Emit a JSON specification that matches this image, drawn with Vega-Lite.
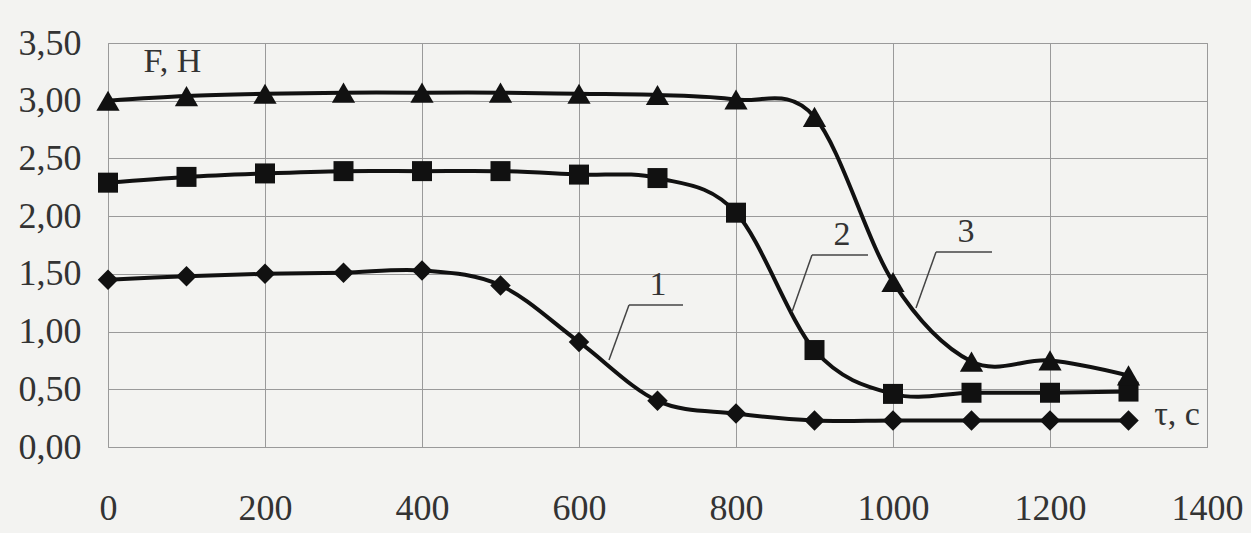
{
  "$schema": "https://vega.github.io/schema/vega-lite/v6.json",
  "width": 1099,
  "height": 404,
  "autosize": {"type": "none"},
  "padding": {"left": 108, "top": 43, "right": 44, "bottom": 86},
  "background": "#f3f3f1",
  "config": {
    "view": {"stroke": "#9a9a9a", "strokeWidth": 1},
    "font": "Liberation Serif"
  },
  "datasets": {
    "series": [
      {"series": "1", "t": 0, "F": 1.45},
      {"series": "1", "t": 100, "F": 1.48},
      {"series": "1", "t": 200, "F": 1.50},
      {"series": "1", "t": 300, "F": 1.51},
      {"series": "1", "t": 400, "F": 1.53},
      {"series": "1", "t": 500, "F": 1.40},
      {"series": "1", "t": 600, "F": 0.91},
      {"series": "1", "t": 700, "F": 0.40},
      {"series": "1", "t": 800, "F": 0.29},
      {"series": "1", "t": 900, "F": 0.23},
      {"series": "1", "t": 1000, "F": 0.23},
      {"series": "1", "t": 1100, "F": 0.23},
      {"series": "1", "t": 1200, "F": 0.23},
      {"series": "1", "t": 1300, "F": 0.23},
      {"series": "2", "t": 0, "F": 2.29},
      {"series": "2", "t": 100, "F": 2.34},
      {"series": "2", "t": 200, "F": 2.37},
      {"series": "2", "t": 300, "F": 2.39},
      {"series": "2", "t": 400, "F": 2.39},
      {"series": "2", "t": 500, "F": 2.39},
      {"series": "2", "t": 600, "F": 2.36},
      {"series": "2", "t": 700, "F": 2.33},
      {"series": "2", "t": 800, "F": 2.03},
      {"series": "2", "t": 900, "F": 0.84},
      {"series": "2", "t": 1000, "F": 0.46},
      {"series": "2", "t": 1100, "F": 0.47},
      {"series": "2", "t": 1200, "F": 0.47},
      {"series": "2", "t": 1300, "F": 0.48},
      {"series": "3", "t": 0, "F": 3.00},
      {"series": "3", "t": 100, "F": 3.04},
      {"series": "3", "t": 200, "F": 3.06},
      {"series": "3", "t": 300, "F": 3.07},
      {"series": "3", "t": 400, "F": 3.07},
      {"series": "3", "t": 500, "F": 3.07},
      {"series": "3", "t": 600, "F": 3.06},
      {"series": "3", "t": 700, "F": 3.05},
      {"series": "3", "t": 800, "F": 3.01},
      {"series": "3", "t": 900, "F": 2.86},
      {"series": "3", "t": 1000, "F": 1.43},
      {"series": "3", "t": 1100, "F": 0.74},
      {"series": "3", "t": 1200, "F": 0.75},
      {"series": "3", "t": 1300, "F": 0.62}
    ],
    "leaders": [
      {"x": 663.7, "y": 1.23, "x2": 732.5, "y2": 1.23},
      {"x": 663.7, "y": 1.23, "x2": 638.2, "y2": 0.754},
      {"x": 896.8, "y": 1.663, "x2": 968.2, "y2": 1.663},
      {"x": 896.8, "y": 1.663, "x2": 871.3, "y2": 1.17},
      {"x": 1054.8, "y": 1.689, "x2": 1126.1, "y2": 1.689},
      {"x": 1054.8, "y": 1.689, "x2": 1029.3, "y2": 1.204}
    ],
    "labels": [
      {"x": 700.6, "y": 1.403, "label": "1"},
      {"x": 935.0, "y": 1.837, "label": "2"},
      {"x": 1093.0, "y": 1.863, "label": "3"},
      {"x": 82, "y": 3.335, "label": "F, H"},
      {"x": 1361.8, "y": 0.277, "label": "τ, c"}
    ]
  },
  "layer": [
    {
      "data": {"name": "series"},
      "mark": {"type": "line", "interpolate": "cardinal", "color": "#111111", "strokeWidth": 4},
      "encoding": {
        "x": {
          "field": "t", "type": "quantitative",
          "scale": {"domain": [0, 1400], "nice": false, "zero": false},
          "axis": {
            "values": [0, 200, 400, 600, 800, 1000, 1200, 1400],
            "format": "d",
            "title": null, "domain": false, "ticks": false,
            "grid": true, "gridColor": "#9a9a9a", "gridWidth": 1,
            "labelFont": "Liberation Serif", "labelFontSize": 36, "labelColor": "#333333",
            "labelPadding": 44, "labelFlush": false
          }
        },
        "y": {
          "field": "F", "type": "quantitative",
          "scale": {"domain": [0, 3.5], "nice": false},
          "axis": {
            "values": [0, 0.5, 1, 1.5, 2, 2.5, 3, 3.5],
            "labelExpr": "replace(format(datum.value, '.2f'), '.', ',')",
            "title": null, "domain": false, "ticks": false,
            "grid": true, "gridColor": "#9a9a9a", "gridWidth": 1,
            "labelFont": "Liberation Serif", "labelFontSize": 36, "labelColor": "#333333",
            "labelPadding": 27, "labelFlush": false
          }
        },
        "detail": {"field": "series", "type": "nominal"}
      }
    },
    {
      "data": {"name": "series"},
      "transform": [{"filter": "datum.series === '1'"}],
      "mark": {"type": "point", "shape": "diamond", "size": 420, "filled": true, "color": "#111111", "opacity": 1},
      "encoding": {
        "x": {"field": "t", "type": "quantitative"},
        "y": {"field": "F", "type": "quantitative"}
      }
    },
    {
      "data": {"name": "series"},
      "transform": [{"filter": "datum.series === '2'"}],
      "mark": {"type": "point", "shape": "square", "size": 400, "filled": true, "color": "#111111", "opacity": 1},
      "encoding": {
        "x": {"field": "t", "type": "quantitative"},
        "y": {"field": "F", "type": "quantitative"}
      }
    },
    {
      "data": {"name": "series"},
      "transform": [{"filter": "datum.series === '3'"}],
      "mark": {"type": "point", "shape": "triangle-up", "size": 540, "filled": true, "color": "#111111", "opacity": 1},
      "encoding": {
        "x": {"field": "t", "type": "quantitative"},
        "y": {"field": "F", "type": "quantitative"}
      }
    },
    {
      "data": {"name": "leaders"},
      "mark": {"type": "rule", "color": "#444444", "strokeWidth": 1.5},
      "encoding": {
        "x": {"field": "x", "type": "quantitative"},
        "y": {"field": "y", "type": "quantitative"},
        "x2": {"field": "x2"},
        "y2": {"field": "y2"}
      }
    },
    {
      "data": {"name": "labels"},
      "mark": {"type": "text", "font": "Liberation Serif", "fontSize": 34, "color": "#333333", "align": "center", "baseline": "middle"},
      "encoding": {
        "x": {"field": "x", "type": "quantitative"},
        "y": {"field": "y", "type": "quantitative"},
        "text": {"field": "label"}
      }
    }
  ]
}
